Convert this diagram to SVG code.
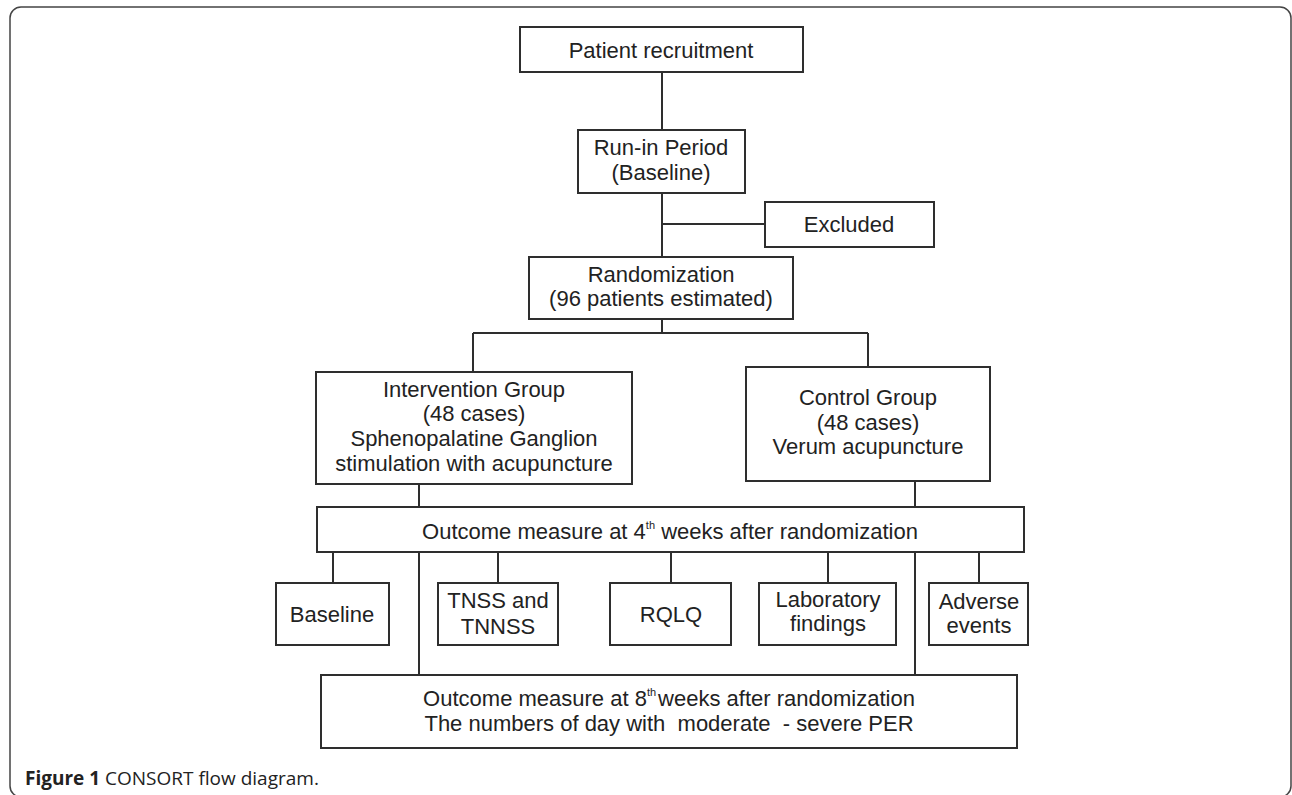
<svg xmlns="http://www.w3.org/2000/svg" width="1292" height="795" viewBox="0 0 1292 795">
<style>
.box{fill:#fff;stroke:#2e2e2e;stroke-width:2}
.t{font-family:"Liberation Sans",Arial,sans-serif;font-size:22px;fill:#222;text-anchor:middle;white-space:pre}
.sup{font-size:11px}
.c{fill:none;stroke:#2e2e2e;stroke-width:2}
.cap{font-family:"Open Sans","Noto Sans",sans-serif;font-size:19px;fill:#222}
</style>
<rect x="10" y="7" width="1281" height="790" rx="11" fill="none" stroke="#444" stroke-width="1.5"/>
<g id="connectors">
<path class="c" d="M662 72V130M662 193V257M662 224H765"/>
<path class="c" d="M662 319V333M473 333H868M473 333V372M868 333V367"/>
<path class="c" d="M419 484V507M915 481V507"/>
<path class="c" d="M333 552V583M498 552V583M671 552V583M828 552V583M979 552V583"/>
<path class="c" d="M419 552V675M915 552V675"/>
</g>
<g id="patient-recruitment"><rect class="box" x="520" y="27" width="283" height="45"/><text class="t" x="661" y="58">Patient recruitment</text></g>
<g id="run-in"><rect class="box" x="578" y="130" width="167" height="63"/><text class="t" x="661" y="155">Run-in Period</text><text class="t" x="661" y="180">(Baseline)</text></g>
<g id="excluded"><rect class="box" x="765" y="202" width="169" height="45"/><text class="t" x="849" y="232">Excluded</text></g>
<g id="randomization"><rect class="box" x="529" y="257" width="264" height="62"/><text class="t" x="661" y="282">Randomization</text><text class="t" x="661" y="306">(96 patients estimated)</text></g>
<g id="intervention"><rect class="box" x="316" y="372" width="316" height="112"/><text class="t" x="474" y="397">Intervention Group</text><text class="t" x="474" y="421">(48 cases)</text><text class="t" x="474" y="446">Sphenopalatine Ganglion</text><text class="t" x="474" y="471">stimulation with acupuncture</text></g>
<g id="control"><rect class="box" x="746" y="367" width="244" height="114"/><text class="t" x="868" y="405">Control Group</text><text class="t" x="868" y="430">(48 cases)</text><text class="t" x="868" y="454">Verum acupuncture</text></g>
<g id="outcome4"><rect class="box" x="317" y="507" width="707" height="45"/><text class="t" x="670" y="539">Outcome measure at 4<tspan class="sup" dy="-10">th</tspan><tspan dy="10"> weeks after randomization</tspan></text></g>
<g id="baseline"><rect class="box" x="276" y="583" width="113" height="62"/><text class="t" x="332" y="622">Baseline</text></g>
<g id="tnss"><rect class="box" x="438" y="583" width="120" height="62"/><text class="t" x="498" y="608">TNSS and</text><text class="t" x="498" y="634">TNNSS</text></g>
<g id="rqlq"><rect class="box" x="610" y="583" width="121" height="62"/><text class="t" x="671" y="622">RQLQ</text></g>
<g id="laboratory"><rect class="box" x="759" y="583" width="137" height="62"/><text class="t" x="828" y="607">Laboratory</text><text class="t" x="828" y="631">findings</text></g>
<g id="adverse"><rect class="box" x="929" y="583" width="99" height="62"/><text class="t" x="979" y="609">Adverse</text><text class="t" x="979" y="633">events</text></g>
<g id="outcome8"><rect class="box" x="321" y="675" width="696" height="73"/><text class="t" x="669" y="706">Outcome measure at 8<tspan class="sup" dy="-10">th</tspan><tspan dy="10" dx="2">weeks after randomization</tspan></text><text class="t" x="669" y="731">The numbers of day with  moderate  - severe PER</text></g>
<text class="cap" x="25" y="785"><tspan font-weight="bold">Figure 1</tspan> CONSORT flow diagram.</text>
</svg>
